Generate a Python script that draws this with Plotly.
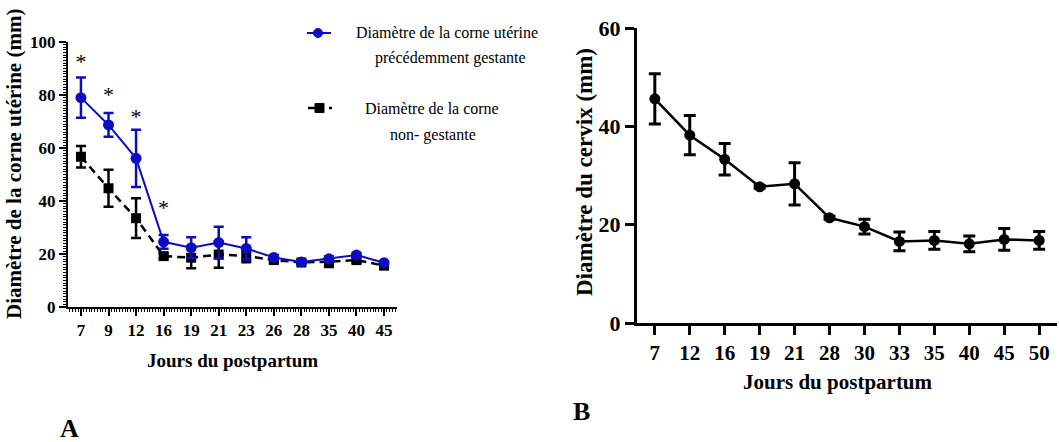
import plotly.graph_objects as go

# ---------------- data ----------------
days_A = ["7", "9", "12", "16", "19", "21", "23", "26", "28", "35", "40", "45"]
gest_mean = [79, 68.7, 56.1, 24.6, 22.4, 24.3, 22.1, 18.7, 17.0, 18.2, 19.6, 16.7]
gest_err = [7.6, 4.5, 10.8, 2.6, 3.9, 6.0, 4.2, 0.8, 0.6, 0.8, 0.8, 0.6]
nong_mean = [56.7, 44.8, 33.5, 19.2, 18.6, 19.8, 19.2, 17.7, 16.8, 17.1, 17.7, 15.6]
nong_err = [4.1, 7.0, 7.5, 1.0, 4.0, 5.0, 2.3, 1.0, 0.6, 2.0, 1.0, 0.8]
star_days = ["7", "9", "12", "16"]
star_y = [92.0, 79.5, 71.0, 36.8]

days_B = ["7", "12", "16", "19", "21", "28", "30", "33", "35", "40", "45", "50"]
cerv_mean = [45.6, 38.2, 33.3, 27.7, 28.3, 21.4, 19.6, 16.6, 16.8, 16.1, 17.0, 16.8]
cerv_err = [5.1, 4.0, 3.2, 0.3, 4.3, 0.3, 1.5, 1.9, 1.8, 1.6, 2.2, 1.8]

BLUE = "#0c0cc4"
FONT = "Liberation Serif"
W, H = 1059, 442


def px(x):
    return x / W


def py(y):
    return 1 - y / H


xa = list(range(len(days_A)))
xb = list(range(len(days_B)))

fig = go.Figure()

fig.add_trace(go.Scatter(
    x=xa, y=nong_mean, mode="lines+markers", xaxis="x", yaxis="y",
    line=dict(color="black", width=2.5, dash="8px,5px"),
    marker=dict(symbol="square", size=10, color="black"),
    error_y=dict(type="data", array=nong_err, color="black", thickness=2.5, width=5),
    showlegend=False))
fig.add_trace(go.Scatter(
    x=xa, y=gest_mean, mode="lines+markers", xaxis="x", yaxis="y",
    line=dict(color=BLUE, width=2),
    marker=dict(symbol="circle", size=11, color=BLUE),
    error_y=dict(type="data", array=gest_err, color=BLUE, thickness=2.5, width=5),
    showlegend=False))
fig.add_trace(go.Scatter(
    x=[days_A.index(d) for d in star_days], y=star_y, mode="text", text=["*"] * len(star_days),
    textfont=dict(family=FONT, size=22, color="black"), textposition="middle center",
    xaxis="x", yaxis="y", showlegend=False, hoverinfo="skip"))

fig.add_trace(go.Scatter(
    x=xb, y=cerv_mean, mode="lines+markers", xaxis="x2", yaxis="y2",
    line=dict(color="black", width=2.5),
    marker=dict(symbol="circle", size=11, color="black"),
    error_y=dict(type="data", array=cerv_err, color="black", thickness=3, width=6),
    showlegend=False))

tickfontA = dict(family=FONT, size=17, color="black", weight="bold")
tickfontB = dict(family=FONT, size=21, color="black", weight="bold")

fig.update_layout(
    width=W, height=H, margin=dict(l=0, r=0, t=0, b=0, pad=0), autosize=False,
    paper_bgcolor="white", plot_bgcolor="white",
    xaxis=dict(domain=[px(68), px(397)], range=[-0.47, 11.47], anchor="y", automargin=False,
               tickvals=xa, ticktext=days_A, tickfont=tickfontA,
               showline=True, linecolor="black", linewidth=2, showgrid=False, zeroline=False,
               ticks="outside", ticklen=7, tickwidth=2, tickcolor="black",
               minor=dict(dtick=0.1, ticks="outside", ticklen=3, tickwidth=1, tickcolor="black", showgrid=False)),
    yaxis=dict(domain=[py(307), py(42)], range=[0, 100], anchor="x", automargin=False,
               tickvals=[0, 20, 40, 60, 80, 100], tickfont=dict(family=FONT, size=17, color="black", weight="bold"),
               showline=True, linecolor="black", linewidth=2, showgrid=False, zeroline=False,
               ticks="outside", ticklen=7, tickwidth=2, tickcolor="black",
               minor=dict(dtick=1, ticks="outside", ticklen=3, tickwidth=1, tickcolor="black", showgrid=False)),
    xaxis2=dict(domain=[px(637), px(1057)], range=[-0.51, 11.51], anchor="y2", automargin=False,
                tickvals=xb, ticktext=days_B, tickfont=tickfontB,
                showline=True, linecolor="black", linewidth=3, showgrid=False, zeroline=False,
                ticks="outside", ticklen=9, tickwidth=3, tickcolor="black"),
    yaxis2=dict(domain=[py(323), py(28)], range=[0, 60], anchor="x2", automargin=False,
                tickvals=[0, 20, 40, 60], tickfont=dict(family=FONT, size=22, color="black", weight="bold"),
                showline=True, linecolor="black", linewidth=3, showgrid=False, zeroline=False,
                ticks="outside", ticklen=9, tickwidth=3, tickcolor="black"),
)

ann = []


def txt(x, y, s, size, bold=False, angle=0):
    ann.append(dict(x=px(x), y=py(y), xref="paper", yref="paper", text=s, showarrow=False,
                    textangle=angle, xanchor="center", yanchor="middle",
                    font=dict(family=FONT, size=size, color="black", weight="bold" if bold else "normal")))


txt(14, 164, "Diamètre de la corne utérine (mm)", 21, True, -90)
txt(232, 360, "Jours du postpartum", 19, True)
txt(69, 428, "A", 26, True)
txt(585, 172, "Diamètre du cervix (mm)", 23, True, -90)
txt(838, 382, "Jours du postpartum", 21, True)
txt(581, 411, "B", 26, True)
# legend text
txt(447, 33, "Diamètre de la corne utérine", 16)
txt(450, 58, "précédemment gestante", 16)
txt(432, 108, "Diamètre de la corne", 16)
txt(433, 135, "non- gestante", 16)
fig.update_layout(annotations=ann)

shapes = [
    dict(type="line", xref="paper", yref="paper", x0=px(307), x1=px(331), y0=py(33), y1=py(33),
         line=dict(color=BLUE, width=2)),
    dict(type="circle", xref="paper", yref="paper", x0=px(313.5), x1=px(322.5), y0=py(37.5), y1=py(28.5),
         fillcolor=BLUE, line=dict(color=BLUE, width=1)),
    dict(type="line", xref="paper", yref="paper", x0=px(308), x1=px(315), y0=py(108), y1=py(108),
         line=dict(color="black", width=2.5)),
    dict(type="rect", xref="paper", yref="paper", x0=px(315), x1=px(324), y0=py(112.5), y1=py(103.5),
         fillcolor="black", line=dict(color="black", width=1)),
    dict(type="line", xref="paper", yref="paper", x0=px(329), x1=px(332), y0=py(108), y1=py(108),
         line=dict(color="black", width=2.5)),
]
fig.update_layout(shapes=shapes)

fig.write_html("out.html", config={"displayModeBar": False},
               post_script="document.body.style.margin='0';document.body.style.overflow='hidden';")
